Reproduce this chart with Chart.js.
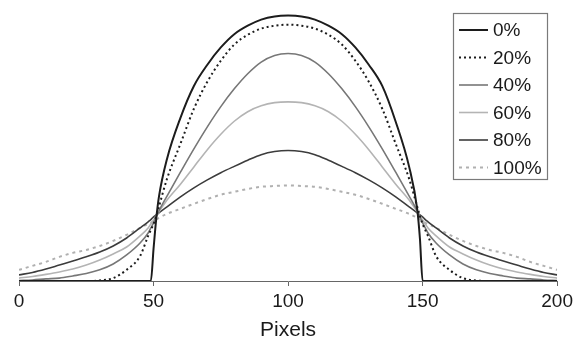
<!DOCTYPE html>
<html>
<head>
<meta charset="utf-8">
<title>Blur profiles</title>
<script src="https://cdn.jsdelivr.net/npm/chart.js@4/dist/chart.umd.min.js"></script>
<style>
  html, body { margin: 0; padding: 0; background: #fff; }
</style>
</head>
<body>
<canvas id="profileChart" width="577" height="341"></canvas>
<script>
// sample positions along the profile (pixels)
const pixelPos = [0, 5, 10, 15, 20, 25, 30, 35, 40, 45, 48, 49, 50, 51, 52, 55, 60, 65, 70, 75, 80, 85, 90, 95, 100,
                  105, 110, 115, 120, 125, 130, 135, 140, 145, 148, 149, 150, 151, 152, 155, 160, 165, 170, 175, 180, 185, 190, 195, 200];

const blurLabels = ['0%', '20%', '40%', '60%', '80%', '100%'];

// relative intensity for each blur level
const blur0 = [0, 0, 0, 0, 0, 0, 0, 0, 0, 0, 0, 0, 0.121, 0.234, 0.317, 0.460, 0.615, 0.735, 0.815, 0.880, 0.930, 0.962, 0.985, 0.997, 1.000,
               0.997, 0.985, 0.962, 0.930, 0.880, 0.815, 0.735, 0.600, 0.430, 0.270, 0.160, 0, 0, 0, 0, 0, 0, 0, 0, 0, 0, 0, 0, 0];
const blur20 = [0, 0, 0, 0, 0, 0, 0.002, 0.011, 0.042, 0.094, 0.170, 0.192, 0.215, 0.245, 0.280, 0.385, 0.517, 0.649, 0.751, 0.830, 0.891, 0.928, 0.951, 0.962, 0.966,
                0.962, 0.951, 0.928, 0.891, 0.830, 0.751, 0.649, 0.517, 0.385, 0.280, 0.245, 0.215, 0.192, 0.170, 0.094, 0.042, 0.011, 0.002, 0, 0, 0, 0, 0, 0];
const blur40 = [0.002, 0.004, 0.008, 0.011, 0.019, 0.028, 0.042, 0.064, 0.098, 0.143, 0.181, 0.200, 0.219, 0.242, 0.264, 0.320, 0.410, 0.498, 0.581, 0.657, 0.724, 0.781, 0.825, 0.850, 0.857,
                0.850, 0.825, 0.781, 0.724, 0.657, 0.581, 0.498, 0.410, 0.320, 0.264, 0.242, 0.219, 0.200, 0.181, 0.143, 0.098, 0.064, 0.042, 0.028, 0.019, 0.011, 0.008, 0.004, 0.002];
const blur60 = [0.011, 0.017, 0.025, 0.034, 0.045, 0.060, 0.079, 0.102, 0.128, 0.170, 0.200, 0.215, 0.230, 0.245, 0.260, 0.305, 0.365, 0.430, 0.495, 0.553, 0.602, 0.638, 0.660, 0.672, 0.675,
                0.672, 0.660, 0.638, 0.602, 0.553, 0.495, 0.430, 0.365, 0.305, 0.260, 0.245, 0.230, 0.215, 0.200, 0.170, 0.128, 0.102, 0.079, 0.060, 0.045, 0.034, 0.025, 0.017, 0.011];
const blur80 = [0.023, 0.032, 0.045, 0.060, 0.075, 0.091, 0.109, 0.132, 0.162, 0.200, 0.223, 0.231, 0.242, 0.249, 0.257, 0.279, 0.317, 0.351, 0.381, 0.408, 0.432, 0.455, 0.476, 0.488, 0.492,
                0.488, 0.476, 0.455, 0.432, 0.408, 0.381, 0.351, 0.317, 0.279, 0.257, 0.249, 0.242, 0.231, 0.223, 0.200, 0.162, 0.132, 0.109, 0.091, 0.075, 0.060, 0.045, 0.032, 0.023];
const blur100 = [0.042, 0.057, 0.072, 0.091, 0.106, 0.117, 0.132, 0.151, 0.174, 0.200, 0.215, 0.219, 0.226, 0.232, 0.238, 0.253, 0.272, 0.291, 0.309, 0.325, 0.336, 0.347, 0.355, 0.358, 0.360,
                 0.358, 0.355, 0.347, 0.336, 0.325, 0.309, 0.291, 0.272, 0.253, 0.238, 0.232, 0.226, 0.219, 0.215, 0.200, 0.174, 0.151, 0.132, 0.117, 0.106, 0.091, 0.072, 0.057, 0.042];

const xTicks = [0, 50, 100, 150, 200];

const fontFamily = '"Liberation Sans", Arial, Helvetica, sans-serif';
const inkColor = '#1a1a1a';

const seriesValues = [blur0, blur20, blur40, blur60, blur80, blur100];
const lineStyles = [
    { color: '#1c1c1c', width: 2, dash: [] },
    { color: '#1c1c1c', width: 2, dash: [2, 3] },
    { color: '#777777', width: 1.6, dash: [] },
    { color: '#b4b4b4', width: 1.6, dash: [] },
    { color: '#3c3c3c', width: 1.6, dash: [] },
    { color: '#b0b0b0', width: 2, dash: [3, 4] }
];

const datasets = seriesValues.map((vals, i) => ({
    label: blurLabels[i],
    data: pixelPos.map((x, j) => ({ x: x, y: vals[j] })),
    borderColor: lineStyles[i].color,
    borderWidth: lineStyles[i].width,
    borderDash: lineStyles[i].dash,
    pointRadius: 0,
    fill: false,
    cubicInterpolationMode: 'monotone'
}));

// boxed legend in the upper right, drawn over the plot
const boxedLegend = {
    id: 'boxedLegend',
    afterDraw(chart) {
        const ctx = chart.ctx;
        const left = 453.5, top = 13.5, width = 94, height = 166;
        const rowStart = 30, rowStep = 27.5;
        ctx.save();
        ctx.strokeStyle = '#7a7a7a';
        ctx.lineWidth = 1.2;
        ctx.strokeRect(left, top, width, height);
        ctx.font = '19px ' + fontFamily;
        ctx.textBaseline = 'middle';
        ctx.textAlign = 'left';
        chart.data.datasets.forEach((ds, i) => {
            const y = rowStart + i * rowStep;
            ctx.beginPath();
            ctx.strokeStyle = ds.borderColor;
            ctx.lineWidth = ds.borderWidth;
            ctx.setLineDash(ds.borderDash);
            ctx.moveTo(459, y);
            ctx.lineTo(488, y);
            ctx.stroke();
            ctx.setLineDash([]);
            ctx.fillStyle = inkColor;
            ctx.fillText(ds.label, 493, y + 1);
        });
        ctx.restore();
    }
};

new Chart(document.getElementById('profileChart'), {
    type: 'line',
    data: { datasets: datasets },
    plugins: [boxedLegend],
    options: {
        responsive: false,
        animation: false,
        layout: { padding: { left: 19, right: 19, top: 5, bottom: 0 } },
        plugins: {
            legend: { display: false },
            tooltip: { enabled: false }
        },
        scales: {
            x: {
                type: 'linear',
                min: 0,
                max: 200,
                afterFit: (scale) => { scale.height = 60; },
                afterBuildTicks: (scale) => { scale.ticks = xTicks.map(v => ({ value: v })); },
                ticks: { padding: 4, color: inkColor, maxRotation: 0, font: { family: fontFamily, size: 19 } },
                grid: { drawOnChartArea: false, drawTicks: true, tickLength: 5, color: '#666666', lineWidth: 1 },
                border: { display: true, color: '#666666', width: 1 },
                title: {
                    display: true,
                    text: 'Pixels',
                    color: inkColor,
                    padding: 0,
                    font: { family: fontFamily, size: 21, lineHeight: 1 }
                }
            },
            y: { display: false, min: 0, max: 1.04 }
        }
    }
});
</script>
</body>
</html>
